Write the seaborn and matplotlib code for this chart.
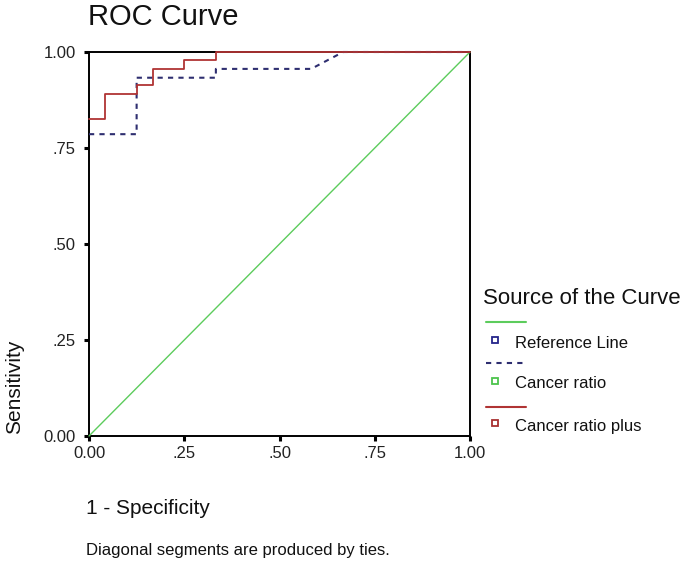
import matplotlib
matplotlib.use("Agg")
import matplotlib.pyplot as plt
from matplotlib.lines import Line2D
import seaborn as sns
import pandas as pd

sns.set_style("white")
plt.rcParams['font.family'] = ['Liberation Sans', 'DejaVu Sans']

# Data (ROC coordinates)
ref_fpr = [0.0, 1.0]
ref_tpr = [0.0, 1.0]
cr_fpr = [0.0, 0.125, 0.125, 0.333, 0.333, 0.583, 0.667, 1.0]
cr_tpr = [0.786, 0.786, 0.933, 0.933, 0.956, 0.956, 1.0, 1.0]
crp_fpr = [0.0, 0.042, 0.042, 0.125, 0.125, 0.167, 0.167, 0.25, 0.25, 0.333, 0.333, 1.0]
crp_tpr = [0.826, 0.826, 0.891, 0.891, 0.913, 0.913, 0.957, 0.957, 0.978, 0.978, 1.0, 1.0]
series_names = ["Reference Line", "Cancer ratio", "Cancer ratio plus"]
tick_vals = [0.0, 0.25, 0.5, 0.75, 1.0]
tick_labels = ["0.00", ".25", ".50", ".75", "1.00"]

line_colors = ["#5ccc5c", "#2e2e70", "#b03434"]
square_colors = ["#24248a", "#4cc44c", "#a83030"]

fig = plt.figure(figsize=(6.85, 5.64), dpi=100)
ax = fig.add_axes([89/685, 1-436/564, 381/685, 384/564])

df_ref = pd.DataFrame({"x": ref_fpr, "y": ref_tpr})
df_cr = pd.DataFrame({"x": cr_fpr, "y": cr_tpr})
df_crp = pd.DataFrame({"x": crp_fpr, "y": crp_tpr})

sns.lineplot(data=df_ref, x="x", y="y", ax=ax, sort=False, estimator=None,
             color=line_colors[0], linewidth=1.0)
sns.lineplot(data=df_cr, x="x", y="y", ax=ax, sort=False, estimator=None,
             color=line_colors[1], linewidth=1.5, linestyle=(0, (2.5, 2.5)))
sns.lineplot(data=df_crp, x="x", y="y", ax=ax, sort=False, estimator=None,
             color=line_colors[2], linewidth=1.3)
for ln, z in zip(ax.get_lines(), [2.6, 2.7, 2.8]):
    ln.set_clip_on(False)
    ln.set_zorder(z)

ax.set_xlim(0, 1)
ax.set_ylim(0, 1)
ax.set_xticks(tick_vals)
ax.set_xticklabels(tick_labels)
ax.set_yticks(tick_vals)
ax.set_yticklabels(tick_labels)
ax.tick_params(axis="both", direction="out", length=3.5, width=2.2, color="black",
               labelsize=12, bottom=True, left=True, labelcolor="#222222")
ax.tick_params(axis="x", pad=4)
ax.tick_params(axis="y", pad=6)
for s in ax.spines.values():
    s.set_color("black")
    s.set_linewidth(1.4)
    s.set_zorder(2.5)
ax.set_xlabel("")
ax.set_ylabel("")

# Titles and labels
fig.text(88/685, 1-17/564, "ROC Curve", fontsize=21, ha="left", va="center", color="#111111")
fig.text(15/685, 1-387/564, "Sensitivity", fontsize=15, rotation=90, ha="center", va="center", color="#111111")
fig.text(86/685, 1-508/564, "1 - Specificity", fontsize=15, ha="left", va="center", color="#111111")
fig.text(86/685, 1-550/564, "Diagonal segments are produced by ties.", fontsize=12, ha="left", va="center", color="#111111")

# Legend (SPSS style)
fig.text(483/685, 1-298/564, "Source of the Curve", fontsize=16, ha="left", va="center", color="#111111")
line_ys = [321.7, 363, 406.7]
label_ys = [343, 384, 426.7]
styles = ["-", (0, (2.5, 2.5)), "-"]
widths = [1.5, 1.5, 1.5]
for i, name in enumerate(series_names):
    fig.add_artist(Line2D([486/685, 526/685], [1-line_ys[i]/564]*2, color=line_colors[i],
                          linestyle=styles[i], linewidth=widths[i], transform=fig.transFigure))
    fig.add_artist(Line2D([495/685], [1-(label_ys[i]-3.5)/564], marker="s", markersize=4.5,
                          markerfacecolor="white", markeredgecolor=square_colors[i],
                          markeredgewidth=1.3, linestyle="none", transform=fig.transFigure))
    fig.text(515/685, 1-label_ys[i]/564, name, fontsize=12, ha="left", va="center", color="#111111")

fig.savefig("out.png", dpi=100)
